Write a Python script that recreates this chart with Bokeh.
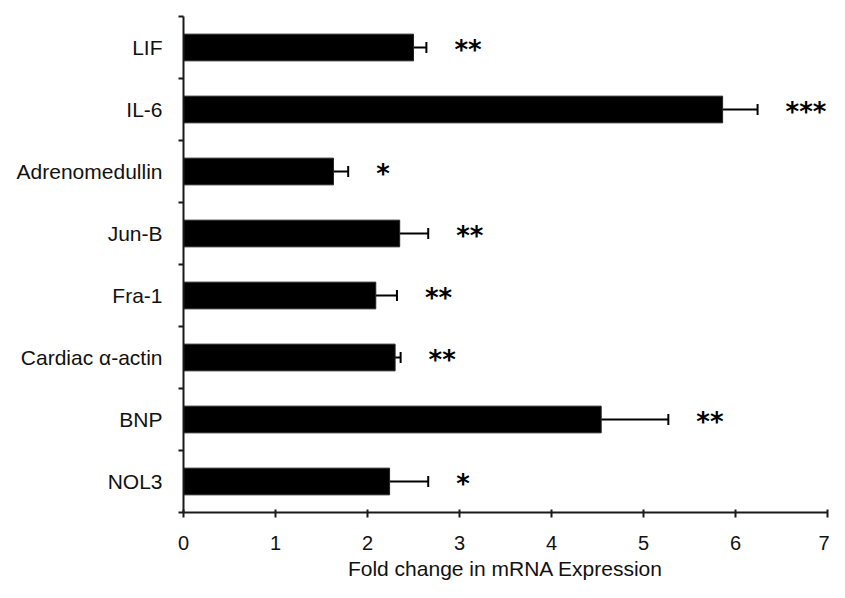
from bokeh.plotting import figure
from bokeh.models import ColumnDataSource, Range1d, FixedTicker, Whisker, TeeHead
from bokeh.core.properties import value
from bokeh.embed import file_html
from bokeh.resources import INLINE

categories = ["LIF", "IL-6", "Adrenomedullin", "Jun-B", "Fra-1",
              "Cardiac \u03b1-actin", "BNP", "NOL3"]
fold_change = [2.50, 5.86, 1.63, 2.35, 2.09, 2.30, 4.54, 2.24]
sem = [0.14, 0.38, 0.16, 0.31, 0.23, 0.06, 0.73, 0.42]
significance = ["**", "***", "*", "**", "**", "**", "**", "*"]
x_ticks = [0, 1, 2, 3, 4, 5, 6, 7]

n = len(categories)
ypos = [n - i - 0.5 for i in range(n)]
upper = [m + e for m, e in zip(fold_change, sem)]

src = ColumnDataSource(dict(y=ypos, mean=fold_change, err=sem, upper=upper,
                            sig=significance, name=categories))

p = figure(width=829, height=582, x_range=Range1d(0, 7), y_range=Range1d(0, n),
           output_backend="svg", toolbar_location=None,
           min_border_left=183, min_border_right=2, min_border_top=16, min_border_bottom=70)

p.hbar(y="y", left=0, right="mean", height=0.43, source=src,
       fill_color="black", line_color="#222222", line_width=1)

wh = Whisker(source=src, base="y", lower="mean", upper="upper", dimension="width",
             line_color="black", line_width=2,
             upper_head=TeeHead(size=11, line_color="black", line_width=2),
             lower_head=None)
p.add_layout(wh)

p.text(x="upper", y="y", text="sig", source=src, x_offset=28, y_offset=2,
       text_align="left", text_baseline="alphabetic",
       text_font=value("DejaVu Sans"), text_font_style="bold",
       text_font_size="26px", text_color="black")

# axes styling
p.grid.visible = False
p.outline_line_color = None
p.background_fill_color = "white"

xa = p.xaxis[0]
xa.ticker = FixedTicker(ticks=x_ticks)
xa.axis_label = "Fold change in mRNA Expression"
xa.axis_label_text_font = "Liberation Sans"
xa.axis_label_text_font_style = "normal"
xa.axis_label_text_font_size = "21px"
xa.axis_label_text_color = "#111111"
xa.axis_label_standoff = 4
xa.major_label_text_font = "Liberation Sans"
xa.major_label_text_font_size = "20px"
xa.major_label_text_color = "#111111"
xa.major_label_standoff = 18
xa.major_tick_in = 3
xa.major_tick_out = 5
xa.major_tick_line_width = 2
xa.major_tick_line_color = "#1a1a1a"
xa.minor_tick_line_color = None
xa.axis_line_width = 2
xa.axis_line_color = "#1a1a1a"

ya = p.yaxis[0]
ya.ticker = FixedTicker(ticks=ypos, minor_ticks=list(range(0, n + 1)))
ya.major_label_overrides = {y: c for y, c in zip(ypos, categories)}
ya.major_label_text_font = "Liberation Sans"
ya.major_label_text_font_size = "21px"
ya.major_label_text_color = "#111111"
ya.major_label_standoff = 16
ya.major_tick_in = 0
ya.major_tick_out = 0
ya.major_tick_line_color = None
ya.minor_tick_in = 0
ya.minor_tick_out = 5
ya.minor_tick_line_width = 2
ya.minor_tick_line_color = "#1a1a1a"
ya.axis_line_width = 2
ya.axis_line_color = "#1a1a1a"

open("out.html", "w").write(file_html(p, INLINE))
